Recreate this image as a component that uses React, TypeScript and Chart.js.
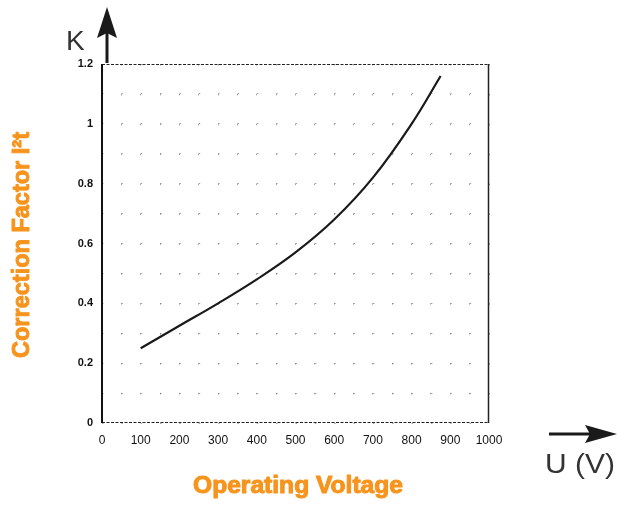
import React, { useEffect, useRef } from "react";
import { Chart, registerables } from "chart.js";

Chart.register(...registerables);

const voltage = [100, 200, 300, 400, 500, 600, 700, 800, 875];
const correctionK = [0.25, 0.325, 0.4, 0.48, 0.57, 0.68, 0.82, 1.0, 1.16];
const xTickLabels = ["0", "100", "200", "300", "400", "500", "600", "700", "800", "900", "1000"];
const yTickLabels = ["0", "0.2", "0.4", "0.6", "0.8", "1", "1.2"];
const yAxisTitle = "Correction Factor I²t";
const xAxisTitle = "Operating Voltage";
const yUnit = "K";
const xUnit = "U (V)";

const ORANGE = "#f7941d";

function fitText(ctx: CanvasRenderingContext2D, text: string, cx: number, cy: number, width: number, font: string, rot: number, stroke = 0) {
  ctx.save();
  ctx.font = font;
  const w = ctx.measureText(text).width;
  ctx.translate(cx, cy);
  ctx.rotate(rot);
  ctx.scale(width / w, 1);
  ctx.textAlign = "center";
  ctx.textBaseline = "middle";
  ctx.fillText(text, 0, 0);
  if (stroke > 0) {
    ctx.strokeStyle = ctx.fillStyle as string;
    ctx.lineWidth = stroke;
    ctx.lineJoin = "round";
    ctx.strokeText(text, 0, 0);
  }
  ctx.restore();
}

const decorPlugin = {
  id: "decor",
  beforeDatasetsDraw(chart: any) {
    const { ctx, chartArea: a } = chart;
    ctx.save();
    ctx.strokeStyle = "#222";
    ctx.lineWidth = 1;
    ctx.setLineDash([3, 1.5]);
    ctx.beginPath();
    ctx.moveTo(a.left, a.top + 0.5);
    ctx.lineTo(a.right, a.top + 0.5);
    ctx.moveTo(a.left, a.bottom - 0.5);
    ctx.lineTo(a.right, a.bottom - 0.5);
    ctx.stroke();
    ctx.setLineDash([]);
    ctx.lineWidth = 1.5;
    ctx.beginPath();
    ctx.moveTo(a.right - 0.5, a.top);
    ctx.lineTo(a.right - 0.5, a.bottom);
    ctx.stroke();
    ctx.lineWidth = 2;
    ctx.strokeStyle = "#111";
    ctx.beginPath();
    ctx.moveTo(a.left, a.top);
    ctx.lineTo(a.left, a.bottom);
    ctx.stroke();
    ctx.restore();
  },
  afterDraw(chart: any) {
    const { ctx } = chart;
    ctx.save();
    ctx.fillStyle = "#1a1a1a";
    ctx.strokeStyle = "#1a1a1a";
    ctx.lineWidth = 3;
    ctx.beginPath();
    ctx.moveTo(107, 63);
    ctx.lineTo(107, 30);
    ctx.stroke();
    ctx.beginPath();
    ctx.moveTo(107, 7);
    ctx.lineTo(117, 38);
    ctx.lineTo(107, 33);
    ctx.lineTo(97, 38);
    ctx.closePath();
    ctx.fill();
    ctx.beginPath();
    ctx.moveTo(549, 434);
    ctx.lineTo(590, 434);
    ctx.stroke();
    ctx.beginPath();
    ctx.moveTo(617, 434);
    ctx.lineTo(585, 425);
    ctx.lineTo(590, 434);
    ctx.lineTo(585, 443);
    ctx.closePath();
    ctx.fill();
    ctx.fillStyle = "#333";
    ctx.font = "28px 'Liberation Sans', Arial, sans-serif";
    ctx.textAlign = "left";
    ctx.textBaseline = "alphabetic";
    ctx.fillText(yUnit, 66, 50);
    fitText(ctx, xUnit, 580, 465, 70, "28px 'Liberation Sans', Arial, sans-serif", 0);
    ctx.fillStyle = ORANGE;
    fitText(ctx, yAxisTitle, 22, 245, 226, "bold 24px 'Liberation Sans Narrow', 'Liberation Sans', Arial, sans-serif", -Math.PI / 2, 1);
    fitText(ctx, xAxisTitle, 298, 487, 210, "bold 23px 'Liberation Sans Narrow', 'Liberation Sans', Arial, sans-serif", 0, 1);
    ctx.restore();
  },
};

export default function App() {
  const ref = useRef<HTMLCanvasElement | null>(null);
  useEffect(() => {
    if (!ref.current) return;
    const chart = new Chart(ref.current, {
      type: "line",
      data: {
        datasets: [
          {
            data: voltage.map((v, i) => ({ x: v, y: correctionK[i] })),
            borderColor: "#1a1a1a",
            borderWidth: 2.2,
            pointRadius: 0,
            tension: 0.4,
            fill: false,
          },
        ],
      },
      options: {
        animation: false,
        responsive: false,
        maintainAspectRatio: false,
        layout: { padding: { left: 0, right: 128, top: 64, bottom: 0 } },
        plugins: { legend: { display: false }, tooltip: { enabled: false }, title: { display: false } },
        scales: {
          x: {
            type: "linear",
            min: 0,
            max: 1000,
            afterFit: (s: any) => {
              s.height = 82;
            },
            afterBuildTicks: (s: any) => {
              const t = [];
              for (let v = 0; v <= 1000; v += 50) t.push({ value: v });
              s.ticks = t;
            },
            ticks: {
              autoSkip: false,
              maxRotation: 0,
              padding: 10,
              color: "#111",
              font: { family: "'Liberation Sans', Arial, sans-serif", size: 12 },
              callback: (v: any) => (v % 100 === 0 ? xTickLabels[v / 100] : ""),
            },
            grid: {
              drawTicks: false,
              color: "rgba(90,90,90,0.55)",
              lineWidth: 1,
            },
            border: { display: false, dash: [1.5, 28.4] },
          },
          y: {
            type: "linear",
            min: 0,
            max: 1.2,
            afterFit: (s: any) => {
              s.width = 102;
            },
            afterBuildTicks: (s: any) => {
              const t = [];
              for (let i = 0; i <= 12; i++) t.push({ value: i / 10 });
              s.ticks = t;
            },
            ticks: {
              autoSkip: false,
              padding: 9,
              color: "#111",
              font: { family: "'Liberation Sans', Arial, sans-serif", size: 11, weight: "bold" },
              callback: (v: any) => {
                const i = Math.round(v * 10);
                return i % 2 === 0 ? yTickLabels[i / 2] : "";
              },
            },
            grid: {
              drawTicks: false,
              color: "rgba(90,90,90,0.55)",
              lineWidth: 1,
            },
            border: { display: false, dash: [1.5, 17.85] },
          },
        },
      },
      plugins: [decorPlugin],
    } as any);
    return () => chart.destroy();
  }, []);
  return (
    <div style={{ position: "fixed", left: 0, top: 0, width: 617, height: 505, background: "#fff" }}>
      <canvas ref={ref} width={617} height={505} style={{ width: 617, height: 505 }} />
    </div>
  );
}
